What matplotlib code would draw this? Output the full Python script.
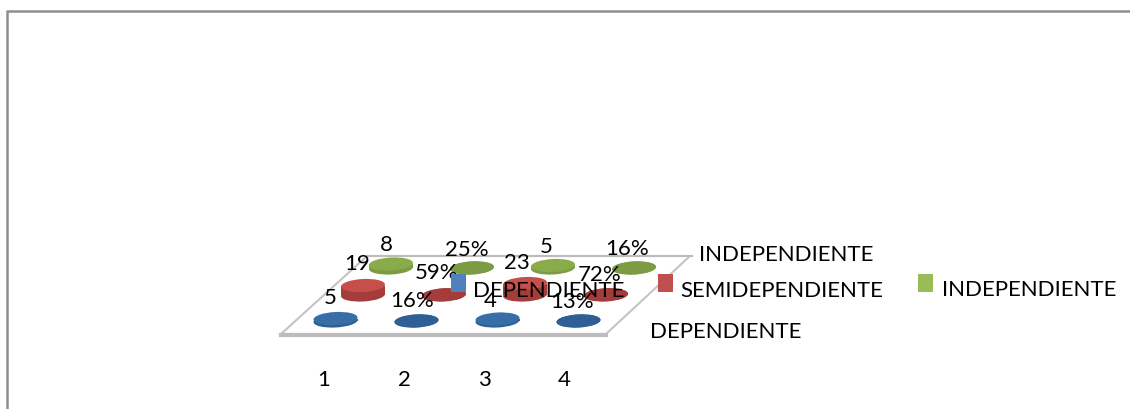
import matplotlib
matplotlib.use("Agg")
import matplotlib.pyplot as plt
from matplotlib.patches import Ellipse, Polygon, Rectangle

categories = ["1", "2", "3", "4"]
series_names = ["DEPENDIENTE", "SEMIDEPENDIENTE", "INDEPENDIENTE"]
dependiente = [5, 0.16, 4, 0.13]
semidependiente = [19, 0.59, 23, 0.72]
independiente = [8, 0.25, 5, 0.16]
dep_labels = ["5", "16%", "4", "13%"]
semi_labels = ["19", "59%", "23", "72%"]
ind_labels = ["8", "25%", "5", "16%"]

plt.rcParams["font.family"] = ["Lato", "DejaVu Sans"]
W, H = 1130, 409
fig = plt.figure(figsize=(W / 100, H / 100), dpi=100)
ax = fig.add_axes([0, 0, 1, 1])
ax.set_xlim(0, W)
ax.set_ylim(H, 0)
ax.axis("off")
FS = 16

# chart frame
ax.plot([6.5, 6.5, W], [H, 11, 11], color="#8e8e8e", lw=1.8, solid_capstyle="butt")

# floor
ax.add_patch(Polygon([(281, 334), (606, 334), (690, 256), (367, 256)], closed=True,
                     fc="white", ec="#c4c4c4", lw=1.5, zorder=1))
ax.plot([281, 606], [334.5, 334.5], color="#bcbcbc", lw=3, zorder=1)
ax.plot([367, 692], [255.5, 255.5], color="#bcbcbc", lw=1.5, zorder=1)

styles = [
    (dependiente, dep_labels, 335.5, 321, "#386ea8", "#2f5f95", 13),
    (semidependiente, semi_labels, 363, 295, "#c64f4b", "#a33c3a", 13),
    (independiente, ind_labels, 391, 268, "#8aab4a", "#7b9c42", 13),
]
STEP_X = 81
SCALE = 0.5
for vals, labs, x0, y0, top, side, eh in styles:
    for i, (v, lab) in enumerate(zip(vals, labs)):
        cx = x0 + i * STEP_X
        h = v * SCALE
        z = 3 + y0 / 1000
        face = top if v >= 1 else side
        ax.add_patch(Ellipse((cx, y0), 44, eh, angle=-3, fc=side, ec="none", zorder=z))
        ax.add_patch(Rectangle((cx - 22, y0 - h), 44, h, fc=side, ec="none", zorder=z))
        ax.add_patch(Ellipse((cx, y0 - h), 44, eh, angle=-3, fc=face, ec="none", zorder=z))

# data labels
lab_xy = {
    "dep": [(330, 298), (412, 301), (490, 301), (572, 302)],
    "semi": [(357, 264), (437, 273), (517, 263), (600, 275)],
    "ind": [(386, 245), (467, 250), (546, 247), (627, 249)],
}
for labs, key in ((dep_labels, "dep"), (semi_labels, "semi"), (ind_labels, "ind")):
    for lab, (x, y) in zip(labs, lab_xy[key]):
        ax.text(x, y, lab, ha="center", va="center", fontsize=FS, color="black", zorder=6)

# category labels
for i, c in enumerate(categories):
    ax.text(324 + i * 80, 380, c, ha="center", va="center", fontsize=FS, color="black")

# depth axis labels
ax.text(699, 255, series_names[2], ha="left", va="center", fontsize=FS)
ax.text(650, 332, series_names[0], ha="left", va="center", fontsize=FS)

# legend
legend = [(451, 274, "#4f81bd", 473, 291), (658, 274, "#c0504d", 680, 291), (918, 274, "#9bbb59", 942, 290)]
for (sx, sy, col, tx, ty), name in zip(legend, series_names):
    ax.add_patch(Rectangle((sx, sy), 15, 18, fc=col, ec="none", zorder=7))
    ax.text(tx, ty, name, ha="left", va="center", fontsize=FS, color="black", zorder=8)

fig.savefig("out.png", dpi=100)
